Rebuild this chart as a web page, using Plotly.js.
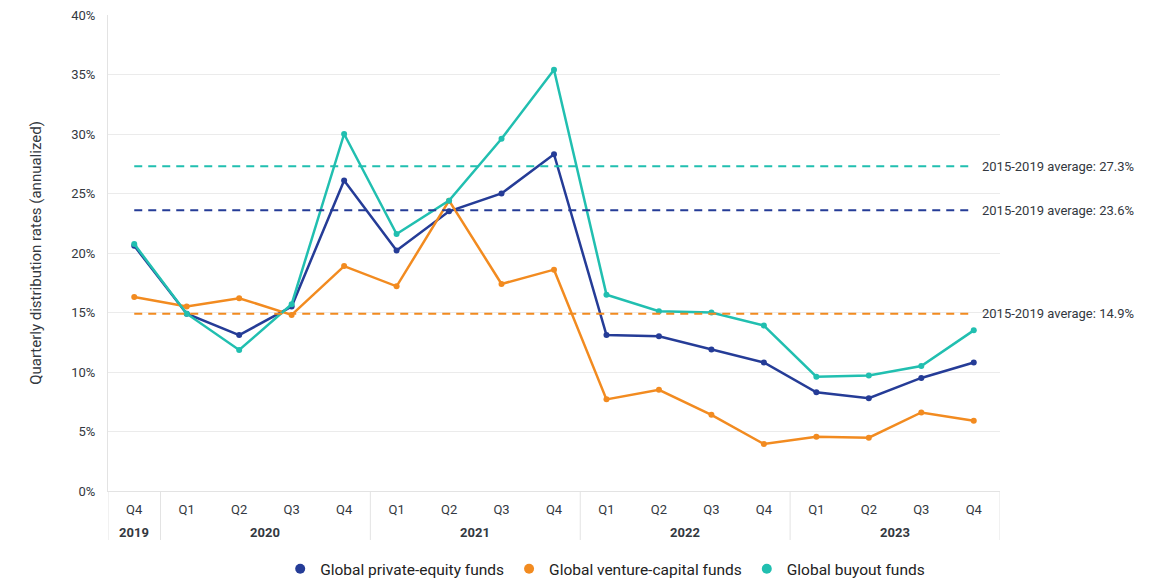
<!DOCTYPE html>
<html>
<head>
<meta charset="utf-8">
<script src="https://cdn.plot.ly/plotly-3.0.1.min.js"></script>
<style>html,body{margin:0;padding:0;background:#fff;}#chart{width:1153px;height:579px;}</style>
</head>
<body>
<div id="chart"></div>
<script>
// ---- data ----
var years = ["2019", "2020", "2020", "2020", "2020", "2021", "2021", "2021", "2021", "2022", "2022", "2022", "2022", "2023", "2023", "2023", "2023"];
var quarters = ["Q4", "Q1", "Q2", "Q3", "Q4", "Q1", "Q2", "Q3", "Q4", "Q1", "Q2", "Q3", "Q4", "Q1", "Q2", "Q3", "Q4"];
var privateEquity = [20.6, 14.9, 13.1, 15.5, 26.1, 20.2, 23.5, 25.0, 28.3, 13.1, 13.0, 11.9, 10.8, 8.3, 7.8, 9.5, 10.8];
var ventureCapital = [16.3, 15.5, 16.2, 14.8, 18.9, 17.2, 24.4, 17.4, 18.6, 7.7, 8.5, 6.4, 3.95, 4.55, 4.48, 6.6, 5.9];
var buyout = [20.75, 14.9, 11.85, 15.7, 30.0, 21.6, 24.4, 29.6, 35.4, 16.5, 15.1, 15.0, 13.9, 9.6, 9.7, 10.5, 13.5];
var seriesNames = ["Global private-equity funds", "Global venture-capital funds", "Global buyout funds"];
var averages = [23.6, 14.9, 27.3];
var averageLabel = "2015-2019 average: ";
var yTickVals = [0, 5, 10, 15, 20, 25, 30, 35, 40];

// ---- build ----
var colors = ["#253c97", "#f28b20", "#21bfb0"];
var keys = quarters.map(function (q, i) { return years[i] + " " + q; });
var series = [privateEquity, ventureCapital, buyout];
var font = "Roboto, 'Noto Sans', sans-serif";
var textColor = "#333840";

var traces = [];
series.forEach(function (s, i) {
  traces.push({
    x: keys, y: s, type: "scatter", mode: "lines+markers",
    line: {color: colors[i], width: 2.5},
    marker: {color: colors[i], size: 6},
    showlegend: false, hoverinfo: "x+y"
  });
});
series.forEach(function (s, i) {
  traces.push({
    x: [null], y: [null], type: "scatter", mode: "markers",
    marker: {color: colors[i], size: 10},
    name: seriesNames[i], showlegend: true
  });
});

var shapes = [];
var annotations = [];
averages.forEach(function (a, i) {
  shapes.push({
    type: "line", xref: "x", yref: "y",
    x0: keys[0], x1: keys[keys.length - 1], y0: a, y1: a,
    line: {color: colors[i], width: 2, dash: "8px,6px"}, layer: "above"
  });
  annotations.push({
    xref: "x", yref: "y", x: keys[keys.length - 1], y: a,
    xanchor: "left", yanchor: "middle", xshift: 6, showarrow: false,
    text: averageLabel + a.toFixed(1) + "%",
    font: {family: font, size: 13, color: textColor}
  });
});

// year groups: dividers and labels
var groups = [];
years.forEach(function (y, i) {
  if (!groups.length || groups[groups.length - 1].year !== y) groups.push({year: y, start: i, end: i});
  else groups[groups.length - 1].end = i;
});
var dividerColor = "#e3e3e3";
groups.forEach(function (g, gi) {
  if (gi === 0) {
    shapes.push({type: "line", xref: "x", yref: "paper", x0: g.start - 0.5, x1: g.start - 0.5, y0: 0, y1: -0.103,
      line: {color: dividerColor, width: 1}});
  }
  shapes.push({type: "line", xref: "x", yref: "paper", x0: g.end + 0.5, x1: g.end + 0.5, y0: 0, y1: -0.103,
    line: {color: dividerColor, width: 1}});
  annotations.push({
    xref: "x", yref: "paper", x: (g.start + g.end) / 2, y: -0.088,
    xanchor: "center", yanchor: "middle", showarrow: false,
    text: "<b>" + g.year + "</b>",
    font: {family: font, size: 13, color: textColor}
  });
});

var layout = {
  width: 1153, height: 579,
  margin: {l: 108, r: 153, t: 15, b: 88, autoexpand: false},
  paper_bgcolor: "#ffffff", plot_bgcolor: "#ffffff",
  font: {family: font, size: 13, color: textColor},
  xaxis: {
    type: "category", tickvals: keys, ticktext: quarters,
    range: [-0.5, keys.length - 0.5],
    showgrid: false, zeroline: false,
    showline: true, linecolor: dividerColor, linewidth: 1,
    ticks: "outside", ticklen: 6, tickcolor: "rgba(0,0,0,0)",
    tickfont: {family: font, size: 13, color: textColor},
    fixedrange: true
  },
  yaxis: {
    range: [0, 40], tickvals: yTickVals,
    ticktext: yTickVals.map(function (v) { return v + "%"; }),
    showgrid: true, gridcolor: "#ebebeb", gridwidth: 1,
    zeroline: false, showline: true, linecolor: dividerColor, linewidth: 1,
    ticks: "outside", ticklen: 9, tickcolor: "rgba(0,0,0,0)",
    tickfont: {family: font, size: 13, color: textColor},
    title: {text: "Quarterly distribution rates (annualized)", font: {family: font, size: 15, color: textColor}, standoff: 26},
    fixedrange: true
  },
  legend: {
    orientation: "h", x: 0.5574, xanchor: "center", yref: "container", y: 0.017, yanchor: "middle",
    font: {family: font, size: 15.5, color: "#222"},
    itemwidth: 30, traceorder: "normal"
  },
  shapes: shapes,
  annotations: annotations,
  hovermode: "closest"
};

Plotly.newPlot("chart", traces, layout, {displayModeBar: false, responsive: false});
</script>
</body>
</html>
